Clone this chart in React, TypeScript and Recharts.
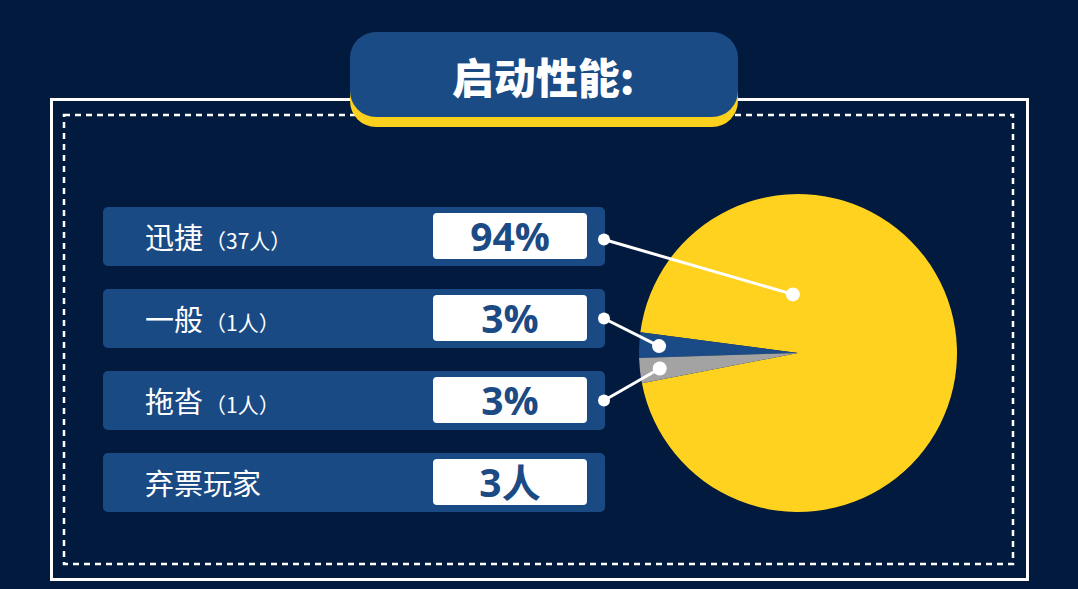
import React from "react";
import { PieChart, Pie, Cell } from "recharts";

const categories = ["迅捷", "一般", "拖沓"];
const counts = [37, 1, 1];
const percentLabels = ["94%", "3%", "3%"];
const abstainLabel = "弃票玩家";
const abstainValue = "3人";
const title = "启动性能:";

const sliceColors = ["#fed21f", "#1b4b86", "#a3a3a3"];

const W = 1078;
const H = 589;
const BG = "#021a3d";
const ROW_FILL = "#1a4a84";
const ROW_X = 103;
const ROW_W = 502;
const ROW_H = 59;
const ROW_TOP = 207;
const ROW_STEP = 82;
const CJK = '"Noto Sans CJK SC", "Noto Sans", sans-serif';
const NUM = '"Open Sans", "Noto Sans CJK SC", sans-serif';

const pieData = categories.map((name, i) => ({ name, value: counts[i] }));

const rows = [
  ...categories.map((name, i) => ({
    name,
    note: `（${counts[i]}人）`,
    value: percentLabels[i],
  })),
  { name: abstainLabel, note: "", value: abstainValue },
];

const RADIAN = Math.PI / 180;

function renderPointer(props: any) {
  const { cx, cy, midAngle, outerRadius, index } = props;
  // the big slice points to a spot near the top, small ones along their middle
  const angle = index === 0 ? 95 : midAngle;
  const r = index === 0 ? outerRadius * 0.37 : outerRadius * 0.875;
  const ix = cx + r * Math.cos(angle * RADIAN);
  const iy = cy - r * Math.sin(angle * RADIAN);
  const ox = ROW_X + ROW_W - 1;
  const oy = ROW_TOP + index * ROW_STEP + ROW_H / 2 + (index === 0 ? 3 : 0);
  return (
    <g key={`ptr-${index}`}>
      <line x1={ox} y1={oy} x2={ix} y2={iy} stroke="#fff" strokeWidth={3} />
      <circle cx={ox} cy={oy} r={6} fill="#fff" />
      <circle cx={ix} cy={iy} r={7} fill="#fff" />
    </g>
  );
}

export default function App() {
  return (
    <div
      style={{
        position: "absolute",
        left: 0,
        top: 0,
        width: W,
        height: H,
        background: BG,
        overflow: "hidden",
      }}
    >
      <svg width={W} height={H} style={{ position: "absolute", left: 0, top: 0 }}>
        <rect x={51.5} y={99.5} width={976} height={480} fill="none" stroke="#fff" strokeWidth={3} />
        <rect
          x={64}
          y={115}
          width={949}
          height={449}
          fill="none"
          stroke="#fff"
          strokeWidth={2.5}
          strokeDasharray="6 5"
        />
        <rect x={350} y={41} width={388} height={86} rx={26} fill="#fcd11e" />
        <rect x={350} y={32} width={388} height={85} rx={26} fill="#1a4b85" />
        <text
          x={543}
          y={75}
          textAnchor="middle"
          dominantBaseline="central"
          fill="#fff"
          fontFamily={CJK}
          fontWeight={900}
          fontSize={42}
        >
          {title}
        </text>
      </svg>

      {rows.map((row, i) => (
        <div
          key={row.name}
          style={{
            position: "absolute",
            left: ROW_X,
            top: ROW_TOP + i * ROW_STEP,
            width: ROW_W,
            height: ROW_H,
            background: ROW_FILL,
            borderRadius: 5,
          }}
        >
          <div
            style={{
              position: "absolute",
              left: 42,
              top: 0,
              height: ROW_H,
              lineHeight: `${ROW_H}px`,
              color: "#fff",
              fontFamily: CJK,
              fontSize: 29,
              whiteSpace: "nowrap",
            }}
          >
            {row.name}
            {row.note && <span style={{ fontSize: 21, marginLeft: 2 }}>{row.note}</span>}
          </div>
          <div
            style={{
              position: "absolute",
              left: 330,
              top: 6,
              width: 154,
              height: 46,
              background: "#fff",
              borderRadius: 4,
              color: "#1b4a84",
              fontFamily: NUM,
              fontWeight: 700,
              fontSize: 39,
              lineHeight: "46px",
              textAlign: "center",
            }}
          >
            {row.value}
          </div>
        </div>
      ))}

      <div style={{ position: "absolute", left: 0, top: 0 }}>
        <PieChart width={W} height={H} margin={{ top: 0, right: 0, bottom: 0, left: 0 }}>
          <Pie
            data={pieData}
            dataKey="value"
            nameKey="name"
            cx={798}
            cy={353}
            outerRadius={159}
            startAngle={-169}
            endAngle={191}
            stroke="none"
            label={renderPointer}
            labelLine={false}
            isAnimationActive={false}
          >
            {pieData.map((d, i) => (
              <Cell key={d.name} fill={sliceColors[i]} />
            ))}
          </Pie>
        </PieChart>
      </div>
    </div>
  );
}
